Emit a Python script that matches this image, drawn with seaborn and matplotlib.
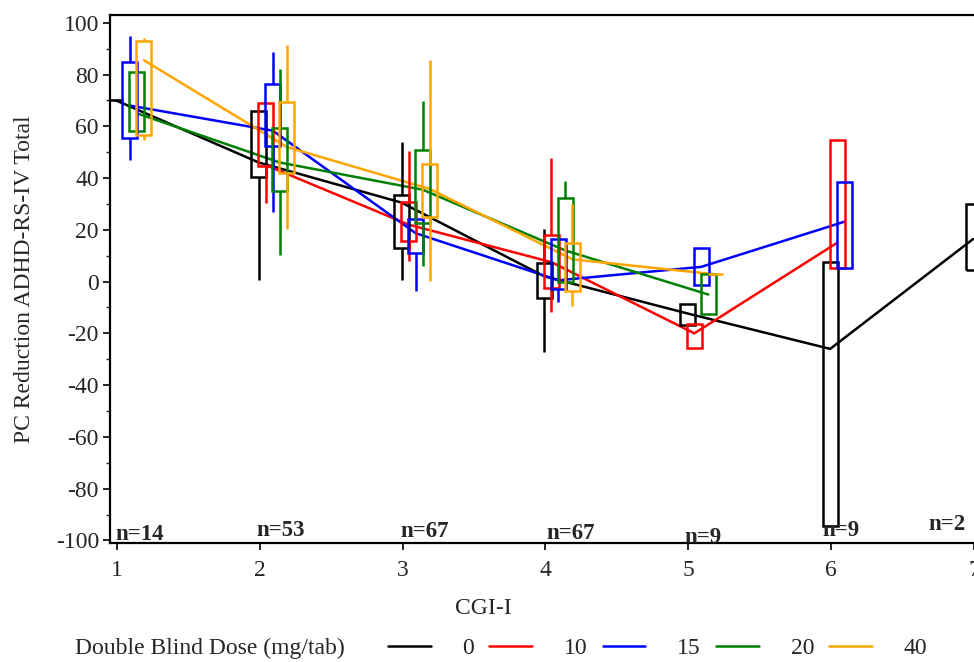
import numpy as np
import pandas as pd
import matplotlib.pyplot as plt
import seaborn as sns
from matplotlib.patches import Rectangle
from matplotlib.ticker import MultipleLocator

nan = np.nan
cgi = [1, 2, 3, 4, 5, 6, 7]
doses = ['0', '10', '15', '20', '40']
colors = ['black', '#ff0000', '#0000ff', '#008000', '#ffa500']

# per dose: mean, Q1, Q3, min, max at each CGI-I level
mean_0 = [70, 46, 30.5, 2, -12.3, -26, 16.4]
q1_0 = [70, 40.5, 13, -6.5, -16.6, -94.3, 4.3]
q3_0 = [70, 65.8, 33.5, 7.1, -8.6, 7.5, 30]
lo_0 = [70, 0.8, 0.5, -27.1, -16.6, -94.3, 4.3]
hi_0 = [70, 65.8, 53.8, 20.2, -8.6, 7.5, 30]

mean_10 = [nan, 45, 22, 7.5, -20, 15, nan]
q1_10 = [nan, 44.5, 15.6, -2.3, -25.7, 5.2, nan]
q3_10 = [nan, 69.1, 30.9, 17.9, -16.4, 54.8, nan]
lo_10 = [nan, 30.5, 8.1, -11.6, -25.7, 5.2, nan]
hi_10 = [nan, 69.1, 50.3, 47.6, -16.4, 54.8, nan]

mean_15 = [68, 58.3, 18.7, 0.5, 5.7, 23.1, nan]
q1_15 = [55.6, 52.5, 11.1, -2.8, -1.5, 5.2, nan]
q3_15 = [84.7, 76.2, 24, 16.3, 12.9, 38.3, nan]
lo_15 = [47, 27, -3.8, -7.7, -1.5, 5.2, nan]
hi_15 = [94.8, 88.7, 24, 16.3, 12.9, 38.3, nan]

mean_20 = [65, 46, 35.5, 12, -5, nan, nan]
q1_20 = [58.3, 35, 22.7, 0, -12.7, nan, nan]
q3_20 = [81, 59.4, 50.8, 32.4, 2.8, nan, nan]
lo_20 = [58.3, 10.4, 5.9, 0, -12.7, nan, nan]
hi_20 = [81, 82, 69.6, 38.9, 2.8, nan, nan]

mean_40 = [85.5, 52, 35.8, 8.6, 2.8, nan, nan]
q1_40 = [56.8, 42.1, 25, -3.8, 2.8, nan, nan]
q3_40 = [93, 69.3, 45.6, 15, 2.8, nan, nan]
lo_40 = [54.7, 20.5, 0.3, -9.6, 2.8, nan, nan]
hi_40 = [94.2, 91.6, 85.8, 30.1, 2.8, nan, nan]

n_labels = ['n=14', 'n=53', 'n=67', 'n=67', 'n=9', 'n=9', 'n=2']
n_x = [0.986, 1.973, 2.986, 4.007, 4.97, 5.94, 6.684]
n_y = [-97.6, -96.2, -96.6, -97.4, -99, -96.2, -93.9]

offsets = [-0.007, 0.042, 0.091, 0.14, 0.189]
box_w = 0.105

series = {
    '0': (mean_0, q1_0, q3_0, lo_0, hi_0),
    '10': (mean_10, q1_10, q3_10, lo_10, hi_10),
    '15': (mean_15, q1_15, q3_15, lo_15, hi_15),
    '20': (mean_20, q1_20, q3_20, lo_20, hi_20),
    '40': (mean_40, q1_40, q3_40, lo_40, hi_40),
}

rows = []
for d, off in zip(doses, offsets):
    m, a, b, lo, hi = series[d]
    for i, c in enumerate(cgi):
        if not np.isnan(m[i]):
            rows.append(dict(dose=d, x=c + off, mean=m[i], q1=a[i], q3=b[i], lo=lo[i], hi=hi[i]))
df = pd.DataFrame(rows)

sns.set_theme(style='ticks')
plt.rcParams['font.family'] = ['Liberation Serif', 'DejaVu Serif']
plt.rcParams['font.size'] = 17
plt.rcParams['axes.unicode_minus'] = False

fig = plt.figure(figsize=(9.74, 6.62), dpi=100)
ax = fig.add_axes([110 / 974, 1 - 543 / 662, 864 / 974, 528 / 662])

pal = dict(zip(doses, colors))
sns.lineplot(data=df, x='x', y='mean', hue='dose', hue_order=doses, palette=pal,
             estimator=None, lw=1.8, ax=ax)

for _, r in df.iterrows():
    col = pal[r['dose']]
    ax.add_patch(Rectangle((r['x'] - box_w / 2, r['q1']), box_w, r['q3'] - r['q1'],
                           fill=False, ec=col, lw=1.8, zorder=3))
    if r['hi'] > r['q3']:
        ax.vlines(r['x'], r['q3'], r['hi'], color=col, lw=1.8, zorder=3)
    if r['lo'] < r['q1']:
        ax.vlines(r['x'], r['lo'], r['q1'], color=col, lw=1.8, zorder=3)

for t, x, y in zip(n_labels, n_x, n_y):
    ax.text(x, y, t, ha='left', va='center', fontsize=16.5, fontweight='bold', zorder=5)

ax.set_xlim(0.951, 6.992)
ax.set_ylim(-101, 103)
ax.set_xticks(cgi)
ax.set_yticks(range(-100, 101, 20))
ax.yaxis.set_minor_locator(MultipleLocator(10))
ax.tick_params(axis='both', labelsize=17, length=5, width=1.2, color='black', pad=3)
ax.tick_params(axis='x', pad=7)
ax.tick_params(axis='y', which='minor', length=3, width=1)
for s in ['left', 'bottom', 'top']:
    ax.spines[s].set_linewidth(1.6)
    ax.spines[s].set_color('black')
ax.spines['right'].set_visible(False)

ax.set_xlabel('CGI-I', fontsize=17)
ax.set_ylabel('PC Reduction ADHD-RS-IV Total', fontsize=17)
ax.xaxis.set_label_coords((483 - 110) / 864, -0.105)
ax.yaxis.set_label_coords(-0.087, 0.5)

handles, labels = ax.get_legend_handles_labels()
ax.get_legend().remove()
for h in handles:
    h.set_linewidth(1.8)
fig.text(75 / 974, 1 - 648 / 662, 'Double Blind Dose (mg/tab)', ha='left', va='center', fontsize=17)
fig.legend(handles, labels, loc='center left', bbox_to_anchor=(388 / 974, 1 - 648 / 662),
           ncol=5, frameon=False, borderpad=0, borderaxespad=0, handlelength=1.8,
           handletextpad=1.35, columnspacing=0.65, fontsize=17)

fig.savefig('out.png', dpi=100)
